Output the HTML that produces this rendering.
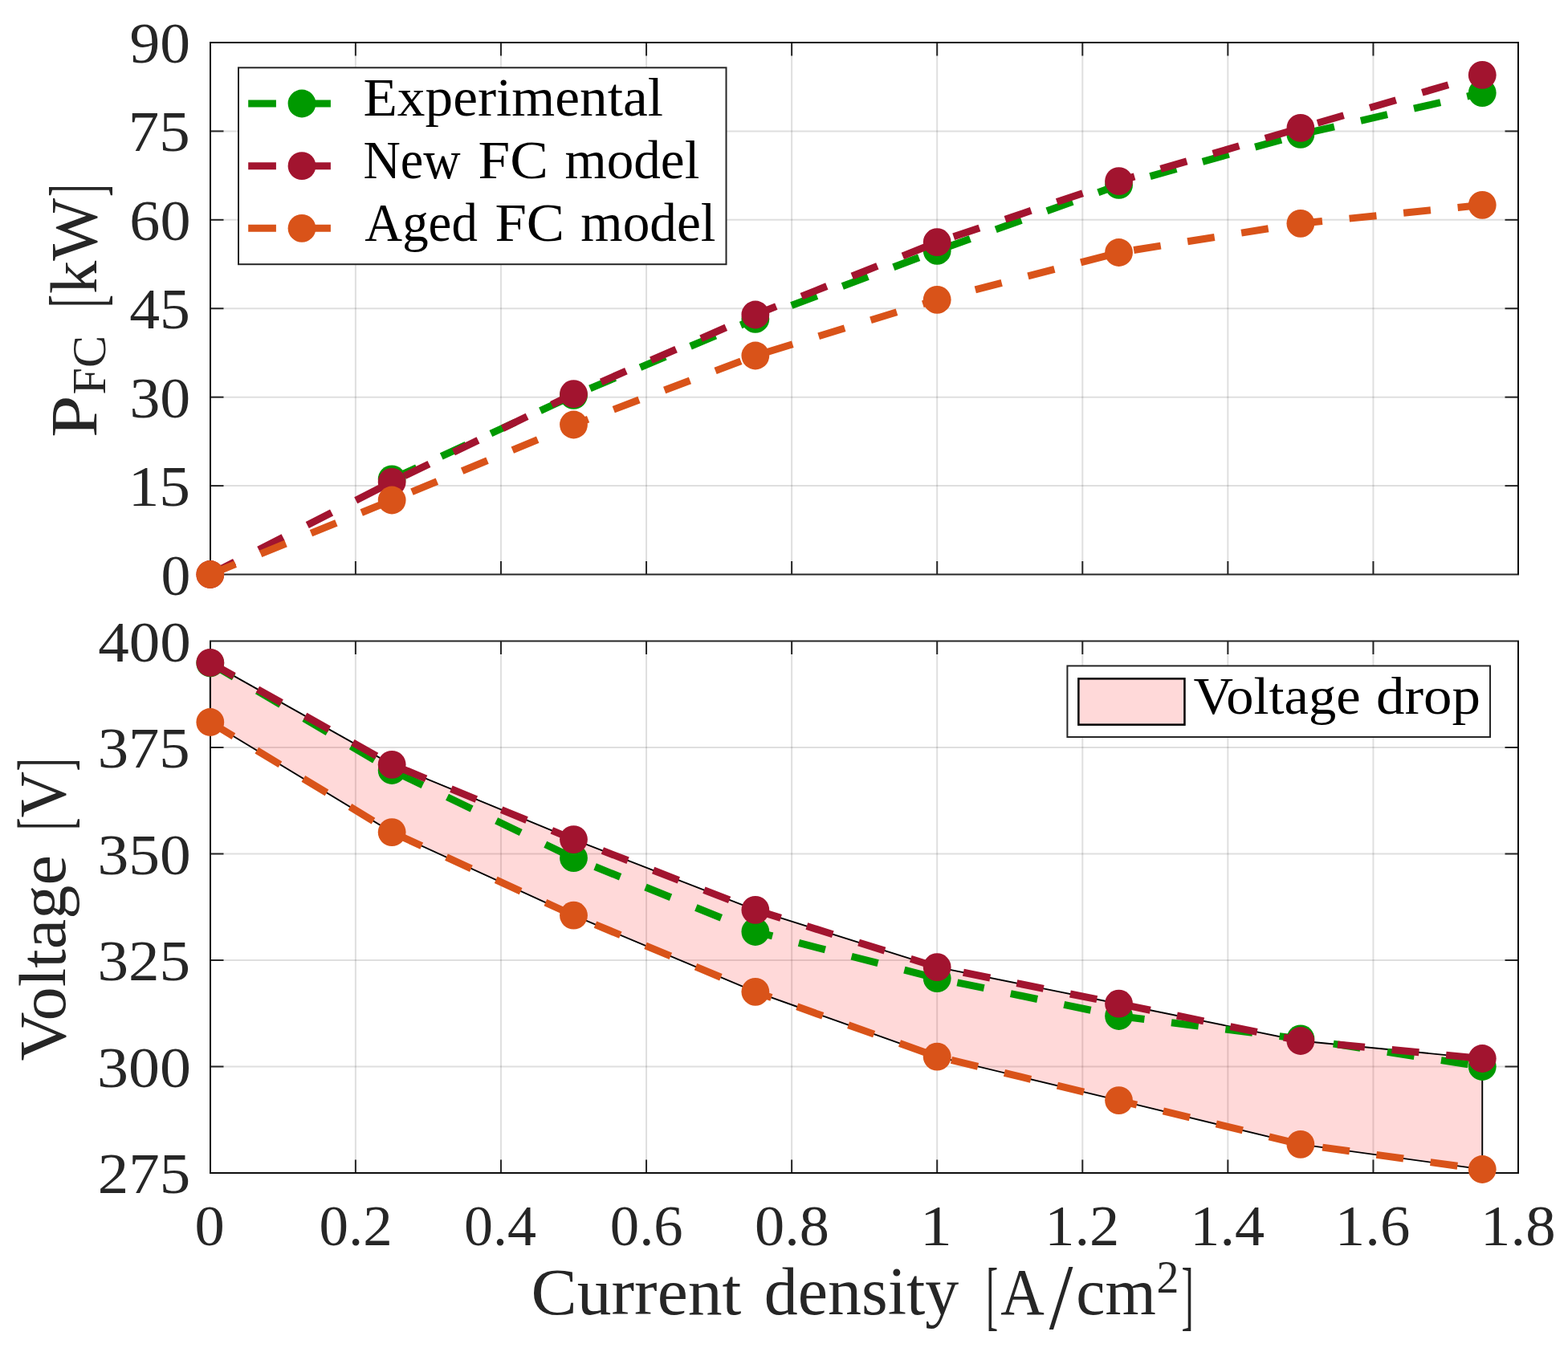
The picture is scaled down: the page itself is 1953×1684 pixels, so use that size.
<!DOCTYPE html>
<html><head><meta charset="utf-8"><title>FC plot</title>
<style>html,body{margin:0;padding:0;background:#fff;width:1953px;height:1684px;overflow:hidden}</style>
</head><body>
<svg width="1953" height="1684" viewBox="0 0 1953 1684" style="display:block;font-family:'Liberation Serif',serif">
<rect width="1953" height="1684" fill="#fff"/>
<line x1="442.88" y1="53.0" x2="442.88" y2="715.5" stroke="rgba(38,38,38,0.15)" stroke-width="2"/>
<line x1="623.96" y1="53.0" x2="623.96" y2="715.5" stroke="rgba(38,38,38,0.15)" stroke-width="2"/>
<line x1="805.04" y1="53.0" x2="805.04" y2="715.5" stroke="rgba(38,38,38,0.15)" stroke-width="2"/>
<line x1="986.12" y1="53.0" x2="986.12" y2="715.5" stroke="rgba(38,38,38,0.15)" stroke-width="2"/>
<line x1="1167.20" y1="53.0" x2="1167.20" y2="715.5" stroke="rgba(38,38,38,0.15)" stroke-width="2"/>
<line x1="1348.28" y1="53.0" x2="1348.28" y2="715.5" stroke="rgba(38,38,38,0.15)" stroke-width="2"/>
<line x1="1529.36" y1="53.0" x2="1529.36" y2="715.5" stroke="rgba(38,38,38,0.15)" stroke-width="2"/>
<line x1="1710.44" y1="53.0" x2="1710.44" y2="715.5" stroke="rgba(38,38,38,0.15)" stroke-width="2"/>
<line x1="262.0" y1="605.08" x2="1891.0" y2="605.08" stroke="rgba(38,38,38,0.15)" stroke-width="2"/>
<line x1="262.0" y1="494.67" x2="1891.0" y2="494.67" stroke="rgba(38,38,38,0.15)" stroke-width="2"/>
<line x1="262.0" y1="384.25" x2="1891.0" y2="384.25" stroke="rgba(38,38,38,0.15)" stroke-width="2"/>
<line x1="262.0" y1="273.83" x2="1891.0" y2="273.83" stroke="rgba(38,38,38,0.15)" stroke-width="2"/>
<line x1="262.0" y1="163.42" x2="1891.0" y2="163.42" stroke="rgba(38,38,38,0.15)" stroke-width="2"/>
<line x1="442.88" y1="715.5" x2="442.88" y2="699.0" stroke="#262626" stroke-width="2"/>
<line x1="442.88" y1="53.0" x2="442.88" y2="69.5" stroke="#262626" stroke-width="2"/>
<line x1="623.96" y1="715.5" x2="623.96" y2="699.0" stroke="#262626" stroke-width="2"/>
<line x1="623.96" y1="53.0" x2="623.96" y2="69.5" stroke="#262626" stroke-width="2"/>
<line x1="805.04" y1="715.5" x2="805.04" y2="699.0" stroke="#262626" stroke-width="2"/>
<line x1="805.04" y1="53.0" x2="805.04" y2="69.5" stroke="#262626" stroke-width="2"/>
<line x1="986.12" y1="715.5" x2="986.12" y2="699.0" stroke="#262626" stroke-width="2"/>
<line x1="986.12" y1="53.0" x2="986.12" y2="69.5" stroke="#262626" stroke-width="2"/>
<line x1="1167.20" y1="715.5" x2="1167.20" y2="699.0" stroke="#262626" stroke-width="2"/>
<line x1="1167.20" y1="53.0" x2="1167.20" y2="69.5" stroke="#262626" stroke-width="2"/>
<line x1="1348.28" y1="715.5" x2="1348.28" y2="699.0" stroke="#262626" stroke-width="2"/>
<line x1="1348.28" y1="53.0" x2="1348.28" y2="69.5" stroke="#262626" stroke-width="2"/>
<line x1="1529.36" y1="715.5" x2="1529.36" y2="699.0" stroke="#262626" stroke-width="2"/>
<line x1="1529.36" y1="53.0" x2="1529.36" y2="69.5" stroke="#262626" stroke-width="2"/>
<line x1="1710.44" y1="715.5" x2="1710.44" y2="699.0" stroke="#262626" stroke-width="2"/>
<line x1="1710.44" y1="53.0" x2="1710.44" y2="69.5" stroke="#262626" stroke-width="2"/>
<line x1="262.0" y1="605.08" x2="278.5" y2="605.08" stroke="#262626" stroke-width="2"/>
<line x1="1891.0" y1="605.08" x2="1874.5" y2="605.08" stroke="#262626" stroke-width="2"/>
<line x1="262.0" y1="494.67" x2="278.5" y2="494.67" stroke="#262626" stroke-width="2"/>
<line x1="1891.0" y1="494.67" x2="1874.5" y2="494.67" stroke="#262626" stroke-width="2"/>
<line x1="262.0" y1="384.25" x2="278.5" y2="384.25" stroke="#262626" stroke-width="2"/>
<line x1="1891.0" y1="384.25" x2="1874.5" y2="384.25" stroke="#262626" stroke-width="2"/>
<line x1="262.0" y1="273.83" x2="278.5" y2="273.83" stroke="#262626" stroke-width="2"/>
<line x1="1891.0" y1="273.83" x2="1874.5" y2="273.83" stroke="#262626" stroke-width="2"/>
<line x1="262.0" y1="163.42" x2="278.5" y2="163.42" stroke="#262626" stroke-width="2"/>
<line x1="1891.0" y1="163.42" x2="1874.5" y2="163.42" stroke="#262626" stroke-width="2"/>
<line x1="261.0" y1="53.0" x2="1892.0" y2="53.0" stroke="#0d0d0d" stroke-width="2"/>
<line x1="261.0" y1="715.5" x2="1892.0" y2="715.5" stroke="#262626" stroke-width="2"/>
<line x1="262.0" y1="53.0" x2="262.0" y2="715.5" stroke="#0d0d0d" stroke-width="2"/>
<line x1="1891.0" y1="53.0" x2="1891.0" y2="715.5" stroke="#0d0d0d" stroke-width="2"/>
<polyline points="488.15,596.80 714.50,492.40 940.85,397.30 1167.20,312.30 1393.55,230.40 1619.90,167.40 1846.25,115.70" fill="none" stroke="#009900" stroke-width="9.0" stroke-dasharray="34 33.85" stroke-linecap="butt" stroke-linejoin="miter"/>
<circle cx="488.15" cy="596.80" r="17.4" fill="#009900"/>
<circle cx="714.50" cy="492.40" r="17.4" fill="#009900"/>
<circle cx="940.85" cy="397.30" r="17.4" fill="#009900"/>
<circle cx="1167.20" cy="312.30" r="17.4" fill="#009900"/>
<circle cx="1393.55" cy="230.40" r="17.4" fill="#009900"/>
<circle cx="1619.90" cy="167.40" r="17.4" fill="#009900"/>
<circle cx="1846.25" cy="115.70" r="17.4" fill="#009900"/>
<polyline points="261.80,715.50 488.15,600.40 714.50,490.70 940.85,392.00 1167.20,301.70 1393.55,225.60 1619.90,159.40 1846.25,93.40" fill="none" stroke="#A2142F" stroke-width="9.0" stroke-dasharray="34 33.85" stroke-linecap="butt" stroke-linejoin="miter"/>
<circle cx="261.80" cy="715.50" r="17.4" fill="#A2142F"/>
<circle cx="488.15" cy="600.40" r="17.4" fill="#A2142F"/>
<circle cx="714.50" cy="490.70" r="17.4" fill="#A2142F"/>
<circle cx="940.85" cy="392.00" r="17.4" fill="#A2142F"/>
<circle cx="1167.20" cy="301.70" r="17.4" fill="#A2142F"/>
<circle cx="1393.55" cy="225.60" r="17.4" fill="#A2142F"/>
<circle cx="1619.90" cy="159.40" r="17.4" fill="#A2142F"/>
<circle cx="1846.25" cy="93.40" r="17.4" fill="#A2142F"/>
<polyline points="261.80,715.50 488.15,623.00 714.50,529.00 940.85,443.00 1167.20,373.30 1393.55,314.50 1619.90,278.30 1846.25,255.30" fill="none" stroke="#D95319" stroke-width="9.0" stroke-dasharray="34 33.85" stroke-linecap="butt" stroke-linejoin="miter"/>
<circle cx="261.80" cy="715.50" r="17.4" fill="#D95319"/>
<circle cx="488.15" cy="623.00" r="17.4" fill="#D95319"/>
<circle cx="714.50" cy="529.00" r="17.4" fill="#D95319"/>
<circle cx="940.85" cy="443.00" r="17.4" fill="#D95319"/>
<circle cx="1167.20" cy="373.30" r="17.4" fill="#D95319"/>
<circle cx="1393.55" cy="314.50" r="17.4" fill="#D95319"/>
<circle cx="1619.90" cy="278.30" r="17.4" fill="#D95319"/>
<circle cx="1846.25" cy="255.30" r="17.4" fill="#D95319"/>
<text transform="translate(200.45,740.50) scale(0.7381,0.7260)" font-size="100" fill="#262626">0</text>
<text transform="translate(159.64,630.08) scale(0.7736,0.7260)" font-size="100" fill="#262626">15</text>
<text transform="translate(161.41,519.67) scale(0.7582,0.7260)" font-size="100" fill="#262626">30</text>
<text transform="translate(161.29,409.25) scale(0.7564,0.7260)" font-size="100" fill="#262626">45</text>
<text transform="translate(161.36,298.83) scale(0.7609,0.7260)" font-size="100" fill="#262626">60</text>
<text transform="translate(159.82,188.42) scale(0.7685,0.7260)" font-size="100" fill="#262626">75</text>
<text transform="translate(161.53,78.00) scale(0.7559,0.7260)" font-size="100" fill="#262626">90</text>
<rect x="297.0" y="84.3" width="607.5" height="244.89999999999998" fill="#fff" stroke="#262626" stroke-width="2"/>
<line x1="309.2" y1="129.0" x2="343.9" y2="129.0" stroke="#009900" stroke-width="9.0"/>
<line x1="377.2" y1="129.0" x2="411.9" y2="129.0" stroke="#009900" stroke-width="9.0"/>
<circle cx="376.0" cy="129.0" r="17.4" fill="#009900"/>
<line x1="309.2" y1="206.65" x2="343.9" y2="206.65" stroke="#A2142F" stroke-width="9.0"/>
<line x1="377.2" y1="206.65" x2="411.9" y2="206.65" stroke="#A2142F" stroke-width="9.0"/>
<circle cx="376.0" cy="206.65" r="17.4" fill="#A2142F"/>
<line x1="309.2" y1="284.3" x2="343.9" y2="284.3" stroke="#D95319" stroke-width="9.0"/>
<line x1="377.2" y1="284.3" x2="411.9" y2="284.3" stroke="#D95319" stroke-width="9.0"/>
<circle cx="376.0" cy="284.3" r="17.4" fill="#D95319"/>
<text transform="translate(452.52,144.10) scale(0.6934,0.6769)" font-size="100" fill="#000">Experimental</text>
<text transform="translate(452.38,221.90) scale(0.6416,0.6769)" font-size="100" fill="#000">New</text>
<text transform="translate(595.56,221.90) scale(0.7140,0.6769)" font-size="100" fill="#000">FC</text>
<text transform="translate(703.56,221.90) scale(0.6711,0.6769)" font-size="100" fill="#000">model</text>
<text transform="translate(454.35,300.20) scale(0.6486,0.6769)" font-size="100" fill="#000">Aged</text>
<text transform="translate(616.38,300.20) scale(0.7079,0.6769)" font-size="100" fill="#000">FC</text>
<text transform="translate(723.36,300.20) scale(0.6724,0.6769)" font-size="100" fill="#000">model</text>
<line x1="442.88" y1="798.5" x2="442.88" y2="1461.0" stroke="rgba(38,38,38,0.15)" stroke-width="2"/>
<line x1="623.96" y1="798.5" x2="623.96" y2="1461.0" stroke="rgba(38,38,38,0.15)" stroke-width="2"/>
<line x1="805.04" y1="798.5" x2="805.04" y2="1461.0" stroke="rgba(38,38,38,0.15)" stroke-width="2"/>
<line x1="986.12" y1="798.5" x2="986.12" y2="1461.0" stroke="rgba(38,38,38,0.15)" stroke-width="2"/>
<line x1="1167.20" y1="798.5" x2="1167.20" y2="1461.0" stroke="rgba(38,38,38,0.15)" stroke-width="2"/>
<line x1="1348.28" y1="798.5" x2="1348.28" y2="1461.0" stroke="rgba(38,38,38,0.15)" stroke-width="2"/>
<line x1="1529.36" y1="798.5" x2="1529.36" y2="1461.0" stroke="rgba(38,38,38,0.15)" stroke-width="2"/>
<line x1="1710.44" y1="798.5" x2="1710.44" y2="1461.0" stroke="rgba(38,38,38,0.15)" stroke-width="2"/>
<line x1="262.0" y1="1328.50" x2="1891.0" y2="1328.50" stroke="rgba(38,38,38,0.15)" stroke-width="2"/>
<line x1="262.0" y1="1196.00" x2="1891.0" y2="1196.00" stroke="rgba(38,38,38,0.15)" stroke-width="2"/>
<line x1="262.0" y1="1063.50" x2="1891.0" y2="1063.50" stroke="rgba(38,38,38,0.15)" stroke-width="2"/>
<line x1="262.0" y1="931.00" x2="1891.0" y2="931.00" stroke="rgba(38,38,38,0.15)" stroke-width="2"/>
<line x1="442.88" y1="1461.0" x2="442.88" y2="1444.5" stroke="#262626" stroke-width="2"/>
<line x1="442.88" y1="798.5" x2="442.88" y2="815.0" stroke="#262626" stroke-width="2"/>
<line x1="623.96" y1="1461.0" x2="623.96" y2="1444.5" stroke="#262626" stroke-width="2"/>
<line x1="623.96" y1="798.5" x2="623.96" y2="815.0" stroke="#262626" stroke-width="2"/>
<line x1="805.04" y1="1461.0" x2="805.04" y2="1444.5" stroke="#262626" stroke-width="2"/>
<line x1="805.04" y1="798.5" x2="805.04" y2="815.0" stroke="#262626" stroke-width="2"/>
<line x1="986.12" y1="1461.0" x2="986.12" y2="1444.5" stroke="#262626" stroke-width="2"/>
<line x1="986.12" y1="798.5" x2="986.12" y2="815.0" stroke="#262626" stroke-width="2"/>
<line x1="1167.20" y1="1461.0" x2="1167.20" y2="1444.5" stroke="#262626" stroke-width="2"/>
<line x1="1167.20" y1="798.5" x2="1167.20" y2="815.0" stroke="#262626" stroke-width="2"/>
<line x1="1348.28" y1="1461.0" x2="1348.28" y2="1444.5" stroke="#262626" stroke-width="2"/>
<line x1="1348.28" y1="798.5" x2="1348.28" y2="815.0" stroke="#262626" stroke-width="2"/>
<line x1="1529.36" y1="1461.0" x2="1529.36" y2="1444.5" stroke="#262626" stroke-width="2"/>
<line x1="1529.36" y1="798.5" x2="1529.36" y2="815.0" stroke="#262626" stroke-width="2"/>
<line x1="1710.44" y1="1461.0" x2="1710.44" y2="1444.5" stroke="#262626" stroke-width="2"/>
<line x1="1710.44" y1="798.5" x2="1710.44" y2="815.0" stroke="#262626" stroke-width="2"/>
<line x1="262.0" y1="1328.50" x2="278.5" y2="1328.50" stroke="#262626" stroke-width="2"/>
<line x1="1891.0" y1="1328.50" x2="1874.5" y2="1328.50" stroke="#262626" stroke-width="2"/>
<line x1="262.0" y1="1196.00" x2="278.5" y2="1196.00" stroke="#262626" stroke-width="2"/>
<line x1="1891.0" y1="1196.00" x2="1874.5" y2="1196.00" stroke="#262626" stroke-width="2"/>
<line x1="262.0" y1="1063.50" x2="278.5" y2="1063.50" stroke="#262626" stroke-width="2"/>
<line x1="1891.0" y1="1063.50" x2="1874.5" y2="1063.50" stroke="#262626" stroke-width="2"/>
<line x1="262.0" y1="931.00" x2="278.5" y2="931.00" stroke="#262626" stroke-width="2"/>
<line x1="1891.0" y1="931.00" x2="1874.5" y2="931.00" stroke="#262626" stroke-width="2"/>
<line x1="261.0" y1="798.5" x2="1892.0" y2="798.5" stroke="#262626" stroke-width="2"/>
<line x1="261.0" y1="1461.0" x2="1892.0" y2="1461.0" stroke="#0d0d0d" stroke-width="2"/>
<line x1="262.0" y1="798.5" x2="262.0" y2="1461.0" stroke="#0d0d0d" stroke-width="2"/>
<line x1="1891.0" y1="798.5" x2="1891.0" y2="1461.0" stroke="#0d0d0d" stroke-width="2"/>
<polygon points="261.80,825.40 488.15,952.30 714.50,1045.60 940.85,1133.40 1167.20,1204.70 1393.55,1250.20 1619.90,1296.50 1846.25,1318.50 1846.25,1456.50 1619.90,1425.40 1393.55,1370.60 1167.20,1316.20 940.85,1235.30 714.50,1140.20 488.15,1036.60 261.80,899.50" fill="rgba(255,0,0,0.15)" stroke="#000" stroke-width="1.9" stroke-linejoin="miter"/>
<polyline points="261.80,826.00 488.15,959.50 714.50,1068.70 940.85,1160.50 1167.20,1218.60 1393.55,1265.50 1619.90,1293.90 1846.25,1328.50" fill="none" stroke="#009900" stroke-width="9.0" stroke-dasharray="34 33.85" stroke-linecap="butt" stroke-linejoin="miter"/>
<circle cx="261.80" cy="826.00" r="17.4" fill="#009900"/>
<circle cx="488.15" cy="959.50" r="17.4" fill="#009900"/>
<circle cx="714.50" cy="1068.70" r="17.4" fill="#009900"/>
<circle cx="940.85" cy="1160.50" r="17.4" fill="#009900"/>
<circle cx="1167.20" cy="1218.60" r="17.4" fill="#009900"/>
<circle cx="1393.55" cy="1265.50" r="17.4" fill="#009900"/>
<circle cx="1619.90" cy="1293.90" r="17.4" fill="#009900"/>
<circle cx="1846.25" cy="1328.50" r="17.4" fill="#009900"/>
<polyline points="261.80,825.40 488.15,952.30 714.50,1045.60 940.85,1133.40 1167.20,1204.70 1393.55,1250.20 1619.90,1296.50 1846.25,1318.50" fill="none" stroke="#A2142F" stroke-width="9.0" stroke-dasharray="34 33.85" stroke-linecap="butt" stroke-linejoin="miter"/>
<circle cx="261.80" cy="825.40" r="17.4" fill="#A2142F"/>
<circle cx="488.15" cy="952.30" r="17.4" fill="#A2142F"/>
<circle cx="714.50" cy="1045.60" r="17.4" fill="#A2142F"/>
<circle cx="940.85" cy="1133.40" r="17.4" fill="#A2142F"/>
<circle cx="1167.20" cy="1204.70" r="17.4" fill="#A2142F"/>
<circle cx="1393.55" cy="1250.20" r="17.4" fill="#A2142F"/>
<circle cx="1619.90" cy="1296.50" r="17.4" fill="#A2142F"/>
<circle cx="1846.25" cy="1318.50" r="17.4" fill="#A2142F"/>
<polyline points="261.80,899.50 488.15,1036.60 714.50,1140.20 940.85,1235.30 1167.20,1316.20 1393.55,1370.60 1619.90,1425.40 1846.25,1456.50" fill="none" stroke="#D95319" stroke-width="9.0" stroke-dasharray="34 33.85" stroke-linecap="butt" stroke-linejoin="miter"/>
<circle cx="261.80" cy="899.50" r="17.4" fill="#D95319"/>
<circle cx="488.15" cy="1036.60" r="17.4" fill="#D95319"/>
<circle cx="714.50" cy="1140.20" r="17.4" fill="#D95319"/>
<circle cx="940.85" cy="1235.30" r="17.4" fill="#D95319"/>
<circle cx="1167.20" cy="1316.20" r="17.4" fill="#D95319"/>
<circle cx="1393.55" cy="1370.60" r="17.4" fill="#D95319"/>
<circle cx="1619.90" cy="1425.40" r="17.4" fill="#D95319"/>
<circle cx="1846.25" cy="1456.50" r="17.4" fill="#D95319"/>
<text transform="translate(121.82,1486.00) scale(0.7697,0.7260)" font-size="100" fill="#262626">275</text>
<text transform="translate(121.00,1353.50) scale(0.7794,0.7260)" font-size="100" fill="#262626">300</text>
<text transform="translate(121.55,1221.00) scale(0.7709,0.7260)" font-size="100" fill="#262626">325</text>
<text transform="translate(121.52,1088.50) scale(0.7752,0.7260)" font-size="100" fill="#262626">350</text>
<text transform="translate(121.67,956.00) scale(0.7667,0.7260)" font-size="100" fill="#262626">375</text>
<text transform="translate(122.21,823.50) scale(0.7712,0.7260)" font-size="100" fill="#262626">400</text>
<rect x="1329.4" y="829.4" width="526.5999999999999" height="88.60000000000002" fill="#fff" stroke="#262626" stroke-width="2"/>
<rect x="1343.35" y="845.35" width="132.1" height="57.3" fill="rgba(255,0,0,0.15)" stroke="#000" stroke-width="2.5"/>
<text transform="translate(1486.51,889.00) scale(0.6856,0.6615)" font-size="100" fill="#000">Voltage</text>
<text transform="translate(1713.96,889.00) scale(0.7091,0.6615)" font-size="100" fill="#000">drop</text>
<text transform="translate(242.62,1550.90) scale(0.7452,0.7260)" font-size="100" fill="#262626">0</text>
<text transform="translate(397.58,1550.90) scale(0.7304,0.7260)" font-size="100" fill="#262626">0.2</text>
<text transform="translate(578.12,1550.90) scale(0.7202,0.7260)" font-size="100" fill="#262626">0.4</text>
<text transform="translate(759.79,1550.90) scale(0.7271,0.7260)" font-size="100" fill="#262626">0.6</text>
<text transform="translate(940.03,1550.90) scale(0.7436,0.7260)" font-size="100" fill="#262626">0.8</text>
<text transform="translate(1145.77,1550.90) scale(0.8029,0.7260)" font-size="100" fill="#262626">1</text>
<text transform="translate(1301.20,1550.90) scale(0.7445,0.7260)" font-size="100" fill="#262626">1.2</text>
<text transform="translate(1482.32,1550.90) scale(0.7421,0.7260)" font-size="100" fill="#262626">1.4</text>
<text transform="translate(1662.76,1550.90) scale(0.7487,0.7260)" font-size="100" fill="#262626">1.6</text>
<text transform="translate(1844.07,1550.90) scale(0.7482,0.7260)" font-size="100" fill="#262626">1.8</text>
<text transform="translate(661.57,1637.30) scale(0.8571,0.8354)" font-size="100" fill="#262626">Current</text>
<text transform="translate(951.84,1637.30) scale(0.8394,0.8354)" font-size="100" fill="#262626">density</text>
<text transform="translate(1228.37,1644.50) scale(0.4478,0.9463)" font-size="100" fill="#262626">[</text>
<text transform="translate(1246.14,1637.00) scale(0.7557,0.8354)" font-size="100" fill="#262626">A</text>
<text transform="translate(1306.80,1655.13) scale(1.0679,1.1727)" font-size="100" fill="#262626">/</text>
<text transform="translate(1340.34,1637.00) scale(0.8145,0.8354)" font-size="100" fill="#262626">cm</text>
<text transform="translate(1440.47,1609.60) scale(0.5575,0.5615)" font-size="100" fill="#262626">2</text>
<text transform="translate(1471.58,1644.50) scale(0.4545,0.9463)" font-size="100" fill="#262626">]</text>
<text transform="translate(119.70,545.04) rotate(-90) scale(0.9469,0.8231)" font-size="100" fill="#262626">P</text>
<text transform="translate(130.80,491.51) rotate(-90) scale(0.6026,0.5908)" font-size="100" fill="#262626">FC</text>
<text transform="translate(126.57,382.98) rotate(-90) scale(0.4826,0.9488)" font-size="100" fill="#262626">[</text>
<text transform="translate(119.70,366.05) rotate(-90) scale(0.8246,0.8231)" font-size="100" fill="#262626">kW</text>
<text transform="translate(126.57,245.04) rotate(-90) scale(0.4591,0.9488)" font-size="100" fill="#262626">]</text>
<text transform="translate(80.60,1321.55) rotate(-90) scale(0.8452,0.8231)" font-size="100" fill="#262626">Voltage</text>
<text transform="translate(86.79,1034.06) rotate(-90) scale(0.4652,0.9390)" font-size="100" fill="#262626">[</text>
<text transform="translate(80.60,1018.60) rotate(-90) scale(0.7971,0.8231)" font-size="100" fill="#262626">V</text>
<text transform="translate(86.79,960.55) rotate(-90) scale(0.4864,0.9390)" font-size="100" fill="#262626">]</text>
</svg>
</body></html>
